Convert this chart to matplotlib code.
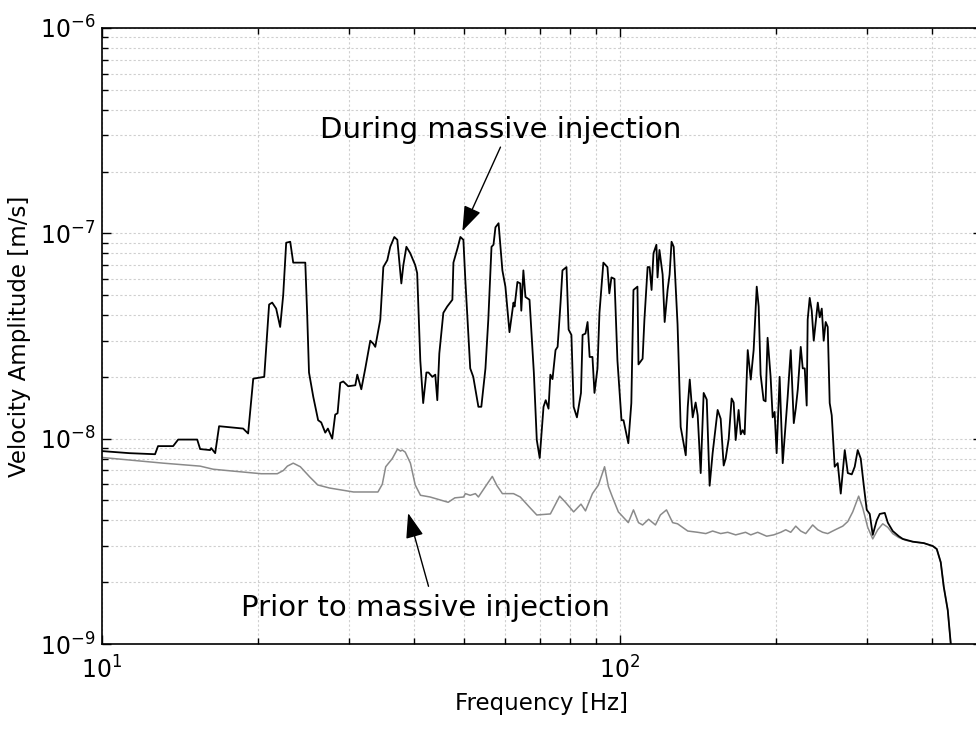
import numpy as np
import matplotlib.pyplot as plt
from matplotlib.ticker import FixedLocator, NullFormatter

# velocity spectrum during the injection (frequency in Hz, amplitude in nm/s)
freq_during = [
    10.0, 11.3, 12.66, 12.83, 13.72, 14.03, 15.27, 15.47, 16.17, 16.25,
    16.54, 16.83, 18.73, 19.15, 19.59, 20.57, 21.02, 21.31, 21.69, 22.08,
    22.38, 22.68, 23.09, 23.40, 24.69, 24.9, 25.1, 25.58, 26.14, 26.5,
    26.98, 27.3, 27.83, 28.2, 28.5, 28.84, 29.23, 29.88, 30.84, 31.11,
    31.67, 32.24, 32.96, 33.41, 33.7, 34.46, 34.93, 35.55, 36.02, 36.68,
    37.17, 37.84, 38.18, 38.7, 39.37, 40.25, 40.6, 41.17, 41.7, 42.3,
    42.7, 43.43, 44.0, 44.4, 44.8, 45.61, 46.4, 47.48, 47.7, 48.6,
    49.2, 49.86, 50.3, 51.4, 52.1, 53.3, 54.0, 55.0, 55.7, 56.5,
    57.0, 57.5, 58.3, 59.3, 60.1, 61.2, 62.3, 62.6, 63.4, 64.2,
    64.5, 65.1, 65.7, 66.9, 68.2, 69.1, 70.0, 71.2, 71.9, 72.8,
    73.4, 74.1, 75.1, 75.8, 76.8, 77.45, 78.85, 79.6, 80.6, 81.4,
    82.6, 84.1, 84.7, 85.8, 86.6, 87.4, 88.5, 89.3, 90.5, 91.3,
    92.9, 94.6, 95.4, 96.3, 97.6, 98.9, 100.7, 101.6, 103.8, 105.2,
    106.2, 108.1, 108.6, 110.6, 111.5, 113.1, 114.1, 115.1, 116.1, 117.6,
    118.2, 119.2, 120.9, 122.0, 123.6, 124.7, 125.8, 127.0, 129.2, 131.0,
    134.0, 135.2, 136.4, 138.2, 140.0, 141.3, 143.2, 145.1, 147.1, 149.0,
    151.0, 154.4, 156.5, 158.6, 160.0, 162.2, 164.3, 165.8, 167.3, 169.5,
    171.1, 172.6, 174.1, 176.5, 178.9, 181.2, 183.7, 185.3, 186.9, 189.4,
    191.1, 192.8, 195.4, 197.2, 198.9, 200.7, 203.4, 206.2, 209.0, 210.8,
    213.7, 216.6, 218.5, 220.5, 223.4, 225.4, 227.4, 229.4, 230.4, 232.5,
    234.6, 236.7, 241.0, 243.1, 245.3, 247.4, 249.6, 251.9, 254.1, 256.4,
    259.8, 263.3, 266.9, 271.7, 275.4, 280.3, 284.0, 287.8, 291.7, 295.7,
    299.6, 303.6, 307.7, 313.2, 317.4, 324.6, 329.0, 336.3, 345.4, 351.6,
    367.6, 386.2, 401.8, 409.0, 416.3, 421.9, 429.5, 435.3, 439.0,
]
amp_during = [
    8.7, 8.5, 8.4, 9.2, 9.2, 9.9, 9.9, 8.9, 8.8, 9.0,
    8.5, 11.5, 11.2, 10.6, 19.6, 20, 45, 46, 43, 35,
    50, 90, 91, 72, 72, 40, 21, 16, 12.3, 12,
    10.7, 11.2, 10, 13.1, 13.3, 18.7, 19, 18, 18.2, 20.5,
    17.4, 22, 30, 29, 28, 38, 68.5, 74, 86, 96,
    93, 57, 70, 86, 80, 70, 64, 24, 14.9, 21,
    21, 20, 20.5, 15.4, 26, 41, 44, 47.5, 72, 85,
    96, 93, 59, 22, 20, 14.3, 14.3, 22, 38, 86,
    88, 107, 112, 66, 55, 33, 46, 44, 58, 57,
    42, 66, 49, 47.5, 21, 9.85, 8.05, 14.3, 15.4, 14,
    20.5, 19.5, 27, 28, 46, 66, 68.5, 34, 32, 14.3,
    12.7, 16.7, 32, 32.5, 37, 25, 25, 16.7, 22, 41,
    72, 68.5, 51, 61, 60, 24, 12.3, 12.3, 9.5, 14.9,
    53, 55, 23, 24.5, 38, 68.5, 68.5, 53, 80, 88,
    61, 83, 63, 37, 53, 63, 91, 86, 36, 11.4,
    8.3, 14.3, 19.4, 12.7, 15, 13, 6.8, 16.7, 15.5, 5.9,
    8.5, 13.8, 12.5, 7.4, 8.0, 10, 15.7, 15, 9.85, 13.8,
    10.5, 11, 10.5, 27, 19.4, 27, 55, 44, 20.5, 15.4,
    15.2, 31, 20, 12.7, 13.5, 8.5, 20, 7.6, 12, 16,
    27, 11.9, 14, 17.4, 28, 22, 22, 14.5, 38, 48.5,
    42, 30, 46, 39, 43, 30, 37, 35, 14.9, 13,
    7.3, 7.6, 5.4, 8.8, 6.8, 6.7, 7.3, 8.8, 8.0, 5.9,
    4.5, 4.3, 3.4, 4.0, 4.3, 4.35, 3.9, 3.55, 3.35, 3.25,
    3.15, 3.1, 3.0, 2.9, 2.5, 1.9, 1.46, 1.0, 0.8,
]

# background spectrum before the injection
freq_prior = [
    10.0, 13.12, 15.47, 16.39, 17.92, 20.3, 21.8, 22.4, 22.8, 23.4,
    24.15, 25.2, 26.1, 27.5, 30.6, 34.1, 34.77, 35.3, 36.35, 37.2,
    37.7, 38.0, 38.5, 39.4, 40.25, 41.2, 43.0, 46.6, 48.0, 49.9,
    50.3, 51.4, 52.6, 53.3, 55.0, 56.7, 57.9, 59.3, 62.3, 64.2,
    67.1, 69.1, 73.4, 75.1, 76.5, 78.5, 81.4, 84.1, 85.8, 88.5,
    90.9, 93.4, 95.0, 96.7, 99.3, 103.8, 106.2, 108.6, 110.6, 113.6,
    117.1, 119.7, 123.0, 126.4, 129.2, 135.2, 141.3, 146.5, 151.0, 156.5,
    161.5, 167.3, 174.8, 178.9, 184.5, 192.0, 198.1, 204.4, 209.0, 213.7,
    218.5, 223.4, 228.4, 235.6, 241.0, 246.3, 251.9, 257.5, 263.3, 269.3,
    275.4, 281.5, 289.0, 294.3, 300.9, 307.7, 314.6, 321.7, 329.0, 336.3,
    345.4, 356.3, 367.6, 386.2, 401.8, 409.0, 416.3, 421.9, 429.5, 435.3,
    439.0,
]
amp_prior = [
    8.1, 7.6, 7.35, 7.1, 6.95, 6.75, 6.75, 7.0, 7.35, 7.6,
    7.3, 6.5, 5.95, 5.75, 5.5, 5.5, 6.0, 7.3, 8.0, 8.9,
    8.7, 8.8, 8.6, 7.6, 5.95, 5.3, 5.2, 4.9, 5.15, 5.2,
    5.4, 5.3, 5.4, 5.2, 5.85, 6.55, 5.9, 5.4, 5.4, 5.2,
    4.6, 4.25, 4.3, 4.8, 5.25, 4.9, 4.4, 4.8, 4.45, 5.4,
    5.95, 7.3, 5.85, 5.2, 4.4, 3.9, 4.5, 3.9, 3.8, 4.05,
    3.8, 4.25, 4.5, 3.9, 3.85, 3.55, 3.5, 3.45, 3.55, 3.45,
    3.5, 3.4, 3.5, 3.4, 3.5, 3.35, 3.4, 3.5, 3.6, 3.5,
    3.75, 3.55, 3.45, 3.8, 3.6, 3.5, 3.45, 3.55, 3.65, 3.75,
    3.95, 4.4, 5.25, 4.6, 3.7, 3.25, 3.6, 3.85, 3.7, 3.45,
    3.3, 3.2, 3.15, 3.1, 3.0, 2.9, 2.5, 1.9, 1.46, 1.0,
    0.8,
]

nm = 1e-9  # nm/s -> m/s

# decade ticks, only the ones inside the plotted range
x_major = [10, 100]
x_minor = [k * 10 for k in range(2, 10)] + [k * 100 for k in range(2, 5)]
y_major = [1e-9, 1e-8, 1e-7, 1e-6]
y_minor = [k * 10.0 ** e for e in (-9, -8, -7) for k in range(2, 10)]

fig = plt.figure(figsize=(9.76, 7.31), dpi=100)
ax = fig.add_axes([0.1045, 0.119, 0.9016, 0.8427])
ax.set_xscale('log')
ax.set_yscale('log')

ax.plot(freq_prior, np.array(amp_prior) * nm, color='#8a8a8a', lw=1.1)
ax.plot(freq_during, np.array(amp_during) * nm, color='k', lw=1.3)

ax.set_xlim(10, 500)
ax.set_ylim(1e-9, 1e-6)

ax.xaxis.set_major_locator(FixedLocator(x_major))
ax.xaxis.set_minor_locator(FixedLocator(x_minor))
ax.yaxis.set_major_locator(FixedLocator(y_major))
ax.yaxis.set_minor_locator(FixedLocator(y_minor))
ax.xaxis.set_minor_formatter(NullFormatter())
ax.yaxis.set_minor_formatter(NullFormatter())

ax.grid(True, which='both', color='#cfcfcf', linestyle=(0, (2, 2)), linewidth=0.8)
ax.tick_params(which='both', direction='in', top=True, right=True, width=1)
ax.tick_params(which='major', length=6.5, labelsize=17)
ax.tick_params(axis='x', which='major', pad=9)
ax.tick_params(axis='y', which='major', pad=5)
ax.tick_params(which='minor', length=4.3, labelbottom=False, labelleft=False)
for sp in ax.spines.values():
    sp.set_linewidth(1.2)

ax.set_xlabel('Frequency [Hz]', fontsize=16.5, labelpad=6)
ax.set_ylabel('Velocity Amplitude [m/s]', fontsize=16.5, labelpad=6)

arrow = dict(arrowstyle='-|>,head_length=0.7,head_width=0.25', color='k',
             lw=1.0, shrinkA=0, shrinkB=0, mutation_scale=22)

ax.text(58.8, 2.91e-7, 'During massive injection', fontsize=21,
        ha='center', va='baseline')
ax.annotate('', xy=(49.64, 1.026e-7), xytext=(58.8, 2.63e-7), arrowprops=arrow)

ax.text(42.1, 1.37e-9, 'Prior to massive injection', fontsize=21,
        ha='center', va='baseline')
ax.annotate('', xy=(39.0, 4.34e-9), xytext=(42.7, 1.91e-9), arrowprops=arrow)

fig.savefig('out.png', dpi=100)
